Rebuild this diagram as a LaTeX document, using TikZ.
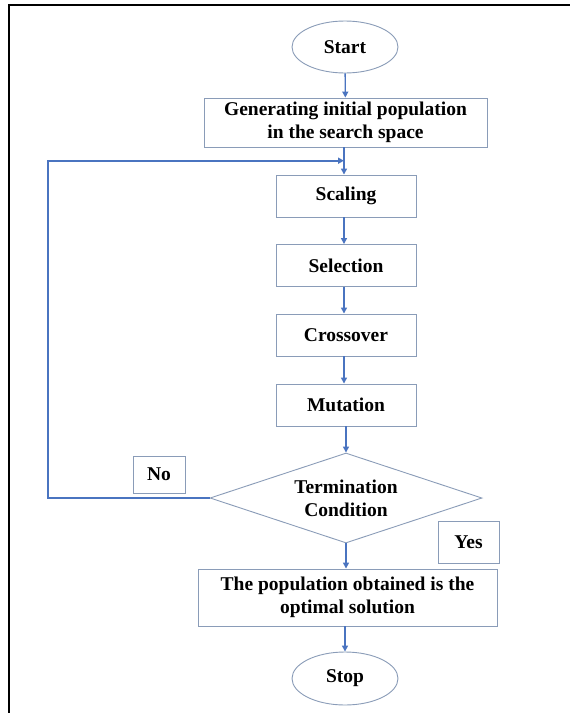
\documentclass[tikz,border=0pt]{standalone}
\usepackage{fontspec}
\setmainfont{Liberation Serif}
\usetikzlibrary{shapes.geometric,arrows.meta}
\definecolor{boxline}{HTML}{8A9CB8}
\definecolor{arrowblue}{HTML}{4A74C0}
\tikzset{
  lbl/.style={font=\bfseries\fontsize{19.5}{23}\selectfont, text=black, align=center, inner sep=0pt},
  procbox/.style={lbl, draw=boxline, line width=0.9pt, rectangle},
  termin/.style={lbl, draw=boxline, line width=0.9pt, ellipse, minimum width=106pt, minimum height=52pt},
  decis/.style={lbl, draw=boxline, line width=0.9pt, diamond, aspect=3, minimum width=272pt, minimum height=90pt},
  flow/.style={draw=arrowblue, line width=1.4pt, -{Triangle[length=6pt,width=6pt]}},
  loopline/.style={draw=arrowblue, line width=2pt},
  framel/.style={draw=black, line width=2pt}
}
\begin{document}
\begin{tikzpicture}[x=1pt,y=-1pt]
\useasboundingbox (0,0) rectangle (570,713);
\fill[white] (0,0) rectangle (570,713);
% frame (top and left only)
\coordinate (ftl) at (9,5);
\coordinate (ftr) at (571,5);
\coordinate (fbl) at (9,714);
\draw[framel] (ftr) -- (ftl) -- (fbl);

\node[termin] (start) at (345,47) {Start};
\node[procbox, minimum width=283pt, minimum height=49pt] (gen) at (345.5,122.5) {Generating initial population\\in the search space};
\node[procbox, minimum width=140pt, minimum height=42pt] (scal) at (346,196) {Scaling};
\node[procbox, minimum width=140pt, minimum height=42pt] (sel) at (346,265.5) {Selection};
\node[procbox, minimum width=140pt, minimum height=42pt] (cross) at (346,335) {Crossover};
\node[procbox, minimum width=140pt, minimum height=42pt] (mut) at (346,405) {Mutation};
\node[decis] (term) at (346,498) {Termination\\Condition};
\node[procbox, minimum width=52pt, minimum height=37pt] (no) at (159,474.5) {No};
\node[procbox, minimum width=61pt, minimum height=42pt] (yes) at (468.5,542) {Yes};
\node[procbox, minimum width=299pt, minimum height=57pt] (res) at (347.5,597.5) {The population obtained is the\\optimal solution};
\node[termin, minimum height=53pt] (stop) at (345,678.5) {Stop};

\coordinate (join) at (344,160.7);
\coordinate (lbot) at (48,498);
\coordinate (ltop) at (48,160.7);

\draw[flow] (start) -- (gen);
\draw[flow] (gen.south -| join) -- (scal.north -| join);
\draw[flow] (scal.south -| join) -- (sel.north -| join);
\draw[flow] (sel.south -| join) -- (cross.north -| join);
\draw[flow] (cross.south -| join) -- (mut.north -| join);
\draw[flow] (mut.south) -- (term.north);
\draw[flow] (term.south) -- (res.north -| term.south);
\draw[flow] (res.south -| stop.north) -- (stop.north);
\draw[loopline] (term.west) -- (lbot) -- (ltop) -- ([xshift=-6pt]join);
\draw[flow, line width=2pt] (ltop) -- (join);
\end{tikzpicture}
\end{document}
